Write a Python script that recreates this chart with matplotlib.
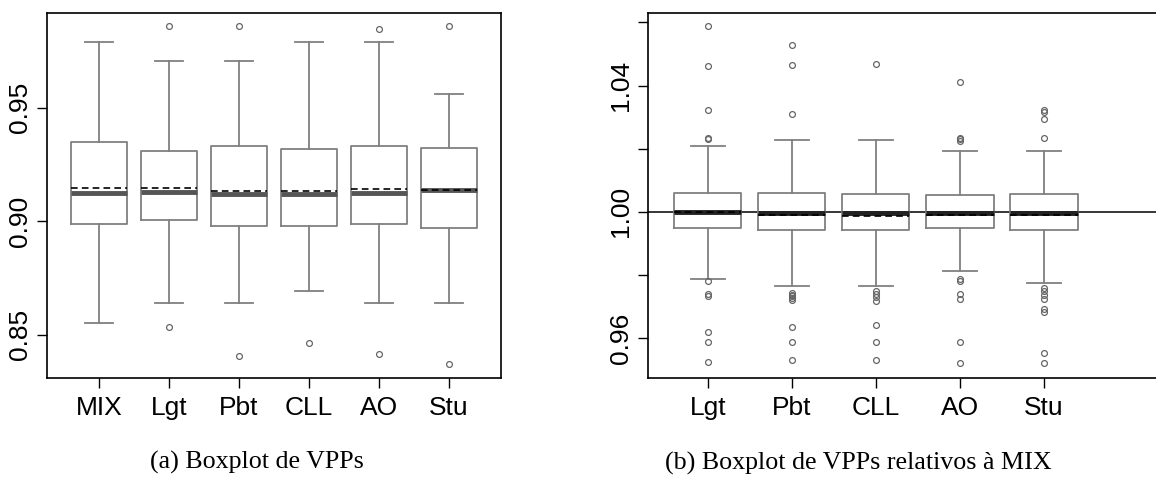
import matplotlib

matplotlib.use("Agg")
import matplotlib.pyplot as plt

# (a) VPPs per method
left_labels = ["MIX", "Lgt", "Pbt", "CLL", "AO", "Stu"]
left_q1 = [0.8987, 0.9004, 0.8980, 0.8980, 0.8987, 0.8969]
left_med = [0.9125, 0.9130, 0.9119, 0.9119, 0.9125, 0.9136]
left_q3 = [0.9350, 0.9311, 0.9330, 0.9318, 0.9330, 0.9324]
left_mean = [0.9147, 0.9148, 0.9135, 0.9135, 0.9141, 0.9137]
left_lo = [0.8554, 0.8640, 0.8640, 0.8692, 0.8640, 0.8640]
left_hi = [0.9789, 0.9705, 0.9705, 0.9789, 0.9789, 0.9562]
left_fliers = [
    [],
    [0.9860, 0.8536],
    [0.9860, 0.8406],
    [0.8463],
    [0.9846, 0.8417],
    [0.9860, 0.8372],
]

# (b) VPPs relative to MIX
right_labels = ["Lgt", "Pbt", "CLL", "AO", "Stu"]
right_q1 = [0.9950, 0.9943, 0.9943, 0.9950, 0.9943]
right_med = [1.0000, 0.9997, 0.9997, 0.9998, 0.9998]
right_q3 = [1.0061, 1.0061, 1.0057, 1.0053, 1.0057]
right_mean = [0.9999, 0.9991, 0.9986, 0.9991, 0.9991]
right_lo = [0.9786, 0.9766, 0.9766, 0.9814, 0.9774]
right_hi = [1.0209, 1.0229, 1.0229, 1.0192, 1.0192]
right_fliers = [
    [1.0589, 1.0462, 1.0323, 1.0235, 1.0230, 0.9780, 0.9741, 0.9733, 0.9619, 0.9589, 0.9524],
    [1.0528, 1.0466, 1.0310, 0.9744, 0.9738, 0.9733, 0.9728, 0.9722, 0.9635, 0.9589, 0.9532],
    [1.0470, 0.9751, 0.9741, 0.9731, 0.9719, 0.9642, 0.9589, 0.9532],
    [1.0413, 1.0235, 1.0230, 1.0226, 0.9788, 0.9780, 0.9741, 0.9725, 0.9589, 0.9520],
    [1.0323, 1.0317, 1.0294, 1.0233, 0.9759, 0.9750, 0.9737, 0.9725, 0.9693, 0.9682, 0.9553, 0.9520],
]

GRAY = "#808080"


def stats(labels, q1, med, q3, mean, lo, hi, fliers):
    return [
        dict(label=l, q1=a, med=m, q3=b, mean=mu, whislo=w0, whishi=w1, fliers=f)
        for l, a, m, b, mu, w0, w1, f in zip(labels, q1, med, q3, mean, lo, hi, fliers)
    ]


def draw(ax, st, median_color):
    ax.bxp(
        st,
        widths=0.8,
        showmeans=True,
        meanline=True,
        boxprops=dict(color=GRAY, lw=1.3),
        whiskerprops=dict(color=GRAY, lw=1.3),
        capprops=dict(color=GRAY, lw=1.3),
        capwidths=0.4,
        medianprops=dict(color=median_color, lw=3.5, solid_capstyle="butt"),
        meanprops=dict(color="black", lw=1.2, linestyle=(0, (4, 2.5))),
        flierprops=dict(marker="o", markersize=4.2, markerfacecolor="none",
                        markeredgecolor="#666666", markeredgewidth=0.9),
    )
    ax.tick_params(axis="both", labelsize=19, length=7, width=1, color="black")
    ax.tick_params(axis="x", pad=6)
    ax.tick_params(axis="y", pad=4)
    for s in ax.spines.values():
        s.set_linewidth(1.2)


fig = plt.figure(figsize=(11.56, 4.82), dpi=100)
plt.rcParams["font.family"] = ["Liberation Sans", "DejaVu Sans"]

W, H = 1156, 482
ax1 = fig.add_axes([47 / W, 1 - 378 / H, 454 / W, 365 / H])
ax2 = fig.add_axes([648 / W, 1 - 378 / H, 512 / W, 365 / H])

draw(ax1, stats(left_labels, left_q1, left_med, left_q3, left_mean, left_lo, left_hi, left_fliers), "#555555")
ax1.set_xlim(0.253, 6.747)
ax1.set_ylim(0.831, 0.9917)
ax1.set_yticks([0.85, 0.90, 0.95])
ax1.set_yticklabels(["0.85", "0.90", "0.95"], rotation=90, va="center")

draw(ax2, stats(right_labels, right_q1, right_med, right_q3, right_mean, right_lo, right_hi, right_fliers), "#222222")
ax2.axhline(1.0, color="black", lw=1.1, zorder=1)
ax2.set_xlim(0.29, 6.38)
ax2.set_ylim(0.9474, 1.063)
ax2.set_yticks([0.96, 0.98, 1.00, 1.02, 1.04, 1.06])
ax2.set_yticklabels(["0.96", "", "1.00", "", "1.04", ""], rotation=90, va="center")
ax2.spines["right"].set_visible(False)

fig.text(257 / W, 1 - 462 / H, "(a) Boxplot de VPPs", ha="center", va="center",
         fontsize=18.7, family="Liberation Serif")
fig.text(858 / W, 1 - 463 / H, "(b) Boxplot de VPPs relativos à MIX", ha="center", va="center",
         fontsize=18.7, family="Liberation Serif")

fig.savefig("out.png", dpi=100)
